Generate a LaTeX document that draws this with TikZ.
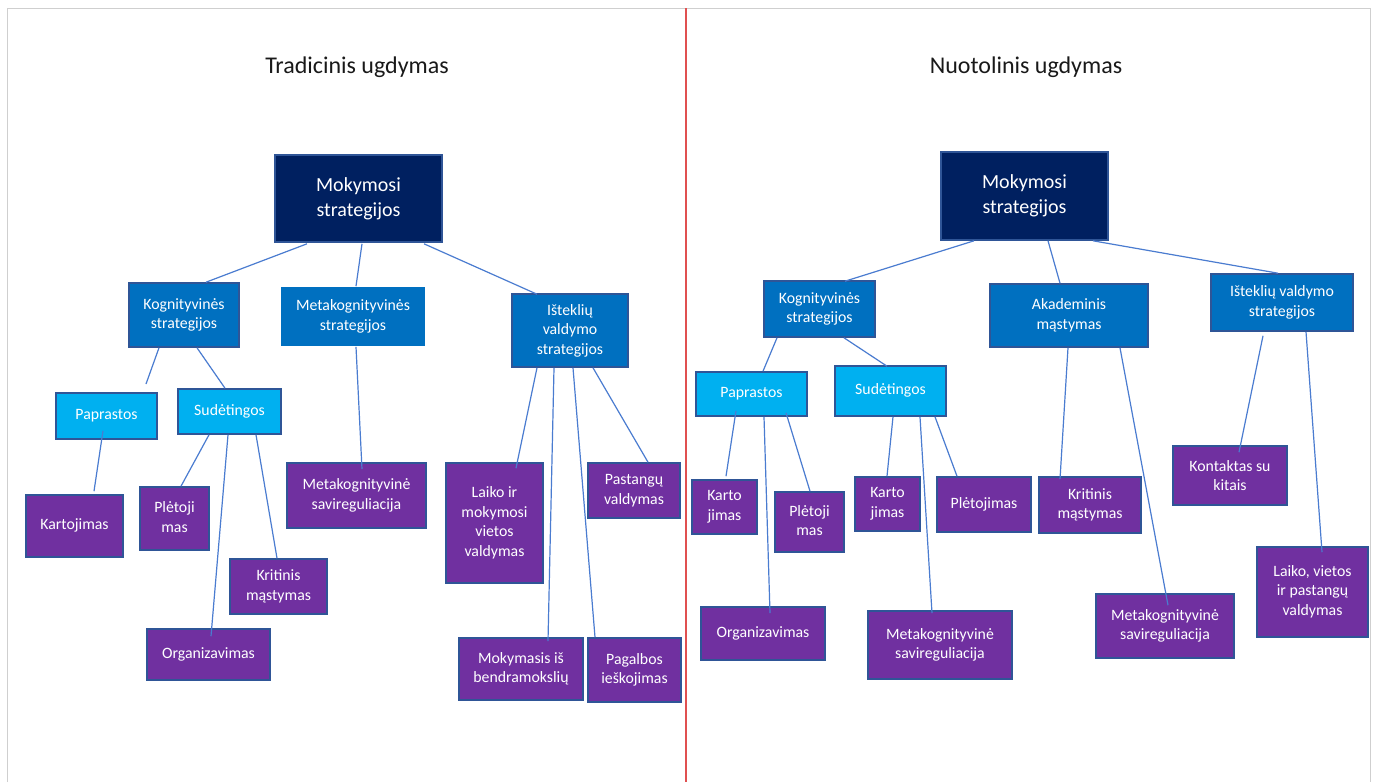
\documentclass[tikz,border=0pt]{standalone}
\usepackage{fontspec}
\setmainfont{Carlito}
\usetikzlibrary{calc}
\definecolor{navy}{HTML}{002060}
\definecolor{midblue}{HTML}{0070C0}
\definecolor{lightblue}{HTML}{00B0F0}
\definecolor{leafpurple}{HTML}{7030A0}
\definecolor{boxborder}{HTML}{2F5597}
\definecolor{connblue}{HTML}{4A7CD0}
\definecolor{framegray}{HTML}{CFCFCF}
\definecolor{divred}{HTML}{E05050}
\newcommand\boxtxt[2]{\raisebox{#1}{\begin{tabular}{@{}c@{}}#2\end{tabular}}}
\tikzset{
  box/.style={draw=boxborder, line width=1.6pt, inner sep=0pt, align=center, text=white,
    font=\fontsize{15.8}{19.5}\selectfont},
  topbox/.style={box, fill=navy, font=\fontsize{20}{25}\selectfont},
  midbox/.style={box, fill=midblue},
  lightbox/.style={box, fill=lightblue},
  leafbox/.style={box, fill=leafpurple},
  conn/.style={draw=connblue, line width=1.2pt},
  titletext/.style={font=\fontsize{24}{29}\selectfont, text=black!90, inner sep=0pt},
  wh/.style 2 args={minimum width=#1pt, minimum height=#2pt}
}
\begin{document}
\begin{tikzpicture}[x=1pt,y=-1pt]
\useasboundingbox (0,0) rectangle (1373,782);
\fill[white] (0,0) rectangle (1373,782);
% frame
\draw[framegray, line width=1pt] (7,782) -- (7,8) -- (1370,8) -- (1370,782);
\draw[divred, line width=1.2pt] (686,8) -- (686,782);

% titles
\node[titletext] (t1) at (357,67) {Tradicinis ugdymas};
\node[titletext] (t2) at (1026,67) {Nuotolinis ugdymas};

% ---------------- left ----------------
\node[topbox, wh={167}{87}] (L0) at (358.5,198.5) {\boxtxt{4.5pt}{Mokymosi\\strategijos}};
\node[midbox, wh={110}{64}] (L1) at (184,315) {Kognityvinės\\strategijos};
\node[midbox, draw=none, wh={144}{59}] (L2) at (353,316.5) {Metakognityvinės\\strategijos};
\node[midbox, wh={116}{73}] (L3) at (570,330.5) {Išteklių\\valdymo\\strategijos};
\node[lightbox, wh={101}{46}] (L4) at (106.5,416) {\boxtxt{3pt}{Paprastos}};
\node[lightbox, wh={103}{45}] (L5) at (229.5,411.5) {\boxtxt{3pt}{Sudėtingos}};
\node[leafbox, wh={97}{62}] (L6) at (74.5,526) {\boxtxt{6pt}{Kartojimas}};
\node[leafbox, wh={69}{63}] (L7) at (174.5,518.5) {\boxtxt{2pt}{Plėtoji\\mas}};
\node[leafbox, wh={97}{55}] (L8) at (278.5,586.5) {Kritinis\\mąstymas};
\node[leafbox, wh={123}{51}] (L9) at (208.5,654.5) {\boxtxt{6pt}{Organizavimas}};
\node[leafbox, wh={139}{65}] (L10) at (356.5,495.5) {\boxtxt{3pt}{Metakognityvinė\\savireguliacija}};
\node[leafbox, wh={97}{120}] (L11) at (494.5,523) {\boxtxt{6pt}{Laiko ir\\mokymosi\\vietos\\valdymas}};
\node[leafbox, wh={92}{55}] (L12) at (634,490.5) {Pastangų\\valdymas};
\node[leafbox, wh={124}{62}] (L13) at (521,669) {Mokymasis iš\\bendramokslių};
\node[leafbox, wh={93}{64}] (L14) at (634.5,670) {Pagalbos\\ieškojimas};

\coordinate (stub) at (146,384);

\draw[conn] ($(L0.south)+(-51.5,1)$) -- ($(L1.north)+(22,0)$);
\draw[conn] ($(L0.south)+(3.5,1)$) -- ($(L2.north)+(3,0)$);
\draw[conn] ($(L0.south)+(65.5,1)$) -- ($(L3.north)+(-33,1)$);
\draw[conn] ($(L1.south)+(-25,0)$) -- (stub);
\draw[conn] ($(L1.south)+(13,0)$) -- ($(L5.north)+(-4.5,0)$);
\draw[conn] ($(L4.south)+(-3.5,-9)$) -- ($(L6.north)+(19.5,-3)$);
\draw[conn] ($(L5.south)+(-20.5,0)$) -- ($(L7.north)+(6.5,0)$);
\draw[conn] ($(L5.south)+(-1.5,0)$) -- ($(L9.north)+(2.5,8)$);
\draw[conn] ($(L5.south)+(26.5,0)$) -- ($(L8.north)+(-1.5,0)$);
\draw[conn] ($(L2.south)+(3,0)$) -- ($(L10.north)+(5.5,7)$);
\draw[conn] ($(L3.south)+(-33,0)$) -- ($(L11.north)+(21.5,6)$);
\draw[conn] ($(L3.south)+(-16,0)$) -- ($(L13.north)+(27,4)$);
\draw[conn] ($(L3.south)+(3,0)$) -- ($(L14.north)+(-39.5,0)$);
\draw[conn] ($(L3.south)+(23,0)$) -- ($(L12.north)+(14,0)$);

% ---------------- right ----------------
\node[topbox, wh={167}{88}] (R0) at (1024.5,196) {\boxtxt{6.5pt}{Mokymosi\\strategijos}};
\node[midbox, wh={111}{56}] (R1) at (819.5,309) {Kognityvinės\\strategijos};
\node[midbox, wh={158}{63}] (R2) at (1069,315.5) {\boxtxt{2pt}{Akademinis\\mąstymas}};
\node[midbox, wh={142}{57}] (R3) at (1282,302.5) {Išteklių valdymo\\strategijos};
\node[lightbox, wh={111}{44}] (R4) at (751.5,394) {\boxtxt{2pt}{Paprastos}};
\node[lightbox, wh={111}{50}] (R5) at (890.5,391) {\boxtxt{5pt}{Sudėtingos}};
\node[leafbox, wh={65}{54}] (R6) at (724.5,507) {Karto\\jimas};
\node[leafbox, wh={69}{60}] (R7) at (809.5,522) {\boxtxt{2pt}{Plėtoji\\mas}};
\node[leafbox, wh={65}{54}] (R8) at (887.5,504) {Karto\\jimas};
\node[leafbox, wh={94}{55}] (R9) at (984,504.5) {\boxtxt{6pt}{Plėtojimas}};
\node[leafbox, wh={102}{56}] (R10) at (1090,505) {Kritinis\\mąstymas};
\node[leafbox, wh={114}{59}] (R11) at (1230,475.5) {Kontaktas su\\kitais};
\node[leafbox, wh={124}{53}] (R12) at (763,633.5) {\boxtxt{6pt}{Organizavimas}};
\node[leafbox, wh={144}{68}] (R13) at (940,645) {\boxtxt{7pt}{Metakognityvinė\\savireguliacija}};
\node[leafbox, wh={138}{64}] (R14) at (1165,626) {\boxtxt{3pt}{Metakognityvinė\\savireguliacija}};
\node[leafbox, wh={111}{90}] (R15) at (1312.5,592) {\boxtxt{6pt}{Laiko, vietos\\ir pastangų\\valdymas}};

\draw[conn] ($(R0.south)+(-50.5,0)$) -- ($(R1.north)+(25.5,1)$);
\draw[conn] ($(R0.south)+(23.5,0)$) -- ($(R2.north)+(-9,0)$);
\draw[conn] ($(R0.south)+(68.5,0)$) -- ($(R3.north)+(-4,0)$);
\draw[conn] ($(R1.south)+(-42.5,0)$) -- ($(R4.north)+(11.5,0)$);
\draw[conn] ($(R1.south)+(24.5,0)$) -- ($(R5.north)+(-3.5,1)$);
\draw[conn] ($(R4.south)+(-15.5,-6)$) -- ($(R6.north)+(1.5,-3)$);
\draw[conn] ($(R4.south)+(12.5,0)$) -- ($(R12.north)+(7,7)$);
\draw[conn] ($(R4.south)+(34.5,-4)$) -- ($(R7.north)+(0.5,0)$);
\draw[conn] ($(R5.south)+(2.5,0)$) -- ($(R8.north)+(-0.5,0)$);
\draw[conn] ($(R5.south)+(29.5,0)$) -- ($(R13.north)+(-8,3)$);
\draw[conn] ($(R5.south)+(44.5,0)$) -- ($(R9.north)+(-27,0)$);
\draw[conn] ($(R2.south)+(-1,0)$) -- ($(R10.north)+(-30,3)$);
\draw[conn] ($(R2.south)+(51,0)$) -- ($(R14.north)+(3,12)$);
\draw[conn] ($(R3.south)+(-19,4)$) -- ($(R11.north)+(9,7)$);
\draw[conn] ($(R3.south)+(24,0)$) -- ($(R15.north)+(9.5,6)$);
\end{tikzpicture}
\end{document}
